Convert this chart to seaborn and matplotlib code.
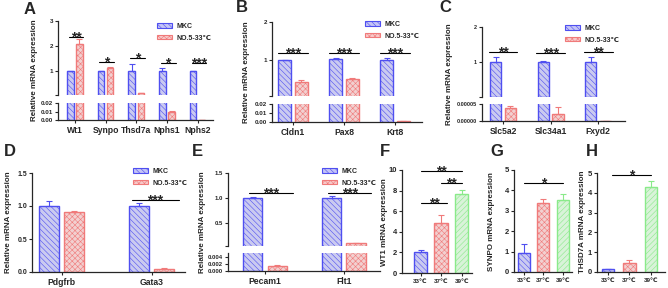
import numpy as np
import pandas as pd
import seaborn as sns
import matplotlib.pyplot as plt
from matplotlib.patches import Patch

# data
groups = ['MKC', 'NO.5-33℃']
temps = ['33℃', '37℃', '39℃']

a_genes = ['Wt1', 'Synpo', 'Thsd7a', 'Nphs1', 'Nphs2']
a_mkc = [1.0, 1.0, 1.0, 1.0, 1.0]
a_mkc_err = [0.0, 0.0, 0.27, 0.12, 0.0]
a_no5 = [2.07, 1.13, 0.10, 0.009, 0.0002]
a_no5_err = [0.2, 0.04, 0.03, 0.002, 0.0]
a_stars = ['**', '*', '*', '*', '***']
a_star_y = [2.35, 1.36, 1.52, 1.32, 1.32]

b_genes = ['Cldn1', 'Pax8', 'Krt8']
b_mkc = [1.0, 1.02, 1.0]
b_mkc_err = [0.01, 0.02, 0.05]
b_no5 = [0.43, 0.49, 0.001]
b_no5_err = [0.03, 0.03, 0.0003]
b_stars = ['***', '***', '***']
b_star_y = [1.18, 1.18, 1.18]

c_genes = ['Slc5a2', 'Slc34a1', 'Fxyd2']
c_mkc = [1.0, 1.0, 1.0]
c_mkc_err = [0.14, 0.04, 0.14]
c_no5 = [0.000038, 0.000021, 0.0]
c_no5_err = [0.000007, 0.00002, 0.0]
c_stars = ['**', '***', '**']
c_star_y = [1.29, 1.26, 1.29]

d_genes = ['Pdgfrb', 'Gata3']
d_mkc = [1.0, 1.0]
d_mkc_err = [0.08, 0.05]
d_no5 = [0.91, 0.05]
d_no5_err = [0.02, 0.005]

e_genes = ['Pecam1', 'Flt1']
e_mkc = [1.0, 1.0]
e_mkc_err = [0.02, 0.04]
e_no5 = [0.0015, 0.09]
e_no5_err = [0.0002, 0.01]

f_vals = [2.05, 4.85, 7.7]
f_err = [0.2, 0.8, 0.4]
g_vals = [0.93, 3.4, 3.52]
g_err = [0.42, 0.2, 0.3]
h_vals = [0.13, 0.47, 4.28]
h_err = [0.04, 0.15, 0.3]

pair_fill = ['#c4c4f6', '#f8caca']
pair_edge = ['#4f4ff0', '#f07a7a']
pair_hatch = ['\\\\\\\\\\\\', 'xxxxxx']
tri_fill = ['#c4c4f6', '#f8caca', '#d4f8d4']
tri_edge = ['#4f4ff0', '#f07a7a', '#8aea8a']
tri_hatch = ['\\\\\\\\\\\\', 'xxxxxx', '//////']

sns.set_style('ticks')
plt.rcParams['font.family'] = ['Liberation Sans', 'DejaVu Sans']
plt.rcParams['font.weight'] = 'bold'
plt.rcParams['hatch.linewidth'] = 0.4

W, H = 668, 288
fig = plt.figure(figsize=(6.68, 2.88), dpi=100)


def box(x0, y0, x1, y1):
    # pixel box, top-left origin -> figure fraction
    return [x0 / W, 1 - y1 / H, (x1 - x0) / W, (y1 - y0) / H]


def ftext(x, y, s, **kw):
    fig.text(x / W, 1 - y / H, s, **kw)


def style(ax, xlabels=True, ysize=4.5):
    sns.despine(ax=ax, bottom=not xlabels)
    for s in ax.spines.values():
        s.set_linewidth(0.9)
    ax.tick_params(axis='y', labelsize=ysize, length=2.5, width=0.8, pad=1)
    ax.tick_params(axis='x', labelsize=6.2, length=2.5, width=0.8, pad=1.5)
    if not xlabels:
        ax.set_xticks([])
    ax.set_xlabel('')
    ax.set_ylabel('')


def pair_bars(ax, genes, mkc, mkc_err, no5, no5_err, width, gap, floor=None):
    df = pd.DataFrame({
        'gene': genes + genes,
        'group': [groups[0]] * len(genes) + [groups[1]] * len(genes),
        'value': mkc + no5,
    })
    sns.barplot(data=df, x='gene', y='value', hue='group', hue_order=groups,
                palette=pair_fill, width=width, gap=gap, errorbar=None,
                legend=False, ax=ax)
    conts = list(ax.containers)[:2]
    for cont, edge, hatch, err in zip(conts, pair_edge, pair_hatch, [mkc_err, no5_err]):
        xs, hs, es = [], [], []
        for bar, e in zip(cont, err):
            bar.set_edgecolor(edge)
            bar.set_hatch(hatch)
            bar.set_linewidth(1.0)
            h = bar.get_height()
            # in the upper part of a broken axis, skip bars that end below the break
            if floor is not None and h + e < floor:
                bar.set_visible(False)
                continue
            xs.append(bar.get_x() + bar.get_width() / 2)
            hs.append(h)
            es.append(e)
        if xs:
            ax.errorbar(xs, hs, yerr=[np.zeros(len(es)), es], fmt='none', ecolor=edge,
                        elinewidth=0.8, capsize=2.5, capthick=0.8)


def tri_bars(ax, vals, err, width):
    sns.barplot(x=temps, y=vals, hue=temps, palette=tri_fill, width=width,
                errorbar=None, legend=False, ax=ax)
    for bar, edge, hatch, e in zip(ax.patches, tri_edge, tri_hatch, err):
        bar.set_edgecolor(edge)
        bar.set_hatch(hatch)
        bar.set_linewidth(1.0)
        x = bar.get_x() + bar.get_width() / 2
        ax.errorbar([x], [bar.get_height()], yerr=[[0], [e]], fmt='none', ecolor=edge,
                    elinewidth=0.8, capsize=2.5, capthick=0.8)


def sig(ax, x0, x1, y, s, size=10):
    ax.plot([x0, x1], [y, y], color='black', lw=0.8, clip_on=False)
    ax.annotate(s, ((x0 + x1) / 2, y), xytext=(0, -3.2), textcoords='offset points',
                ha='center', va='baseline', fontsize=size, annotation_clip=False)


def legend(ax, x, y):
    handles = [Patch(facecolor=f, edgecolor=e, hatch=h, lw=0.8)
               for f, e, h in zip(pair_fill, pair_edge, pair_hatch)]
    ax.legend(handles, groups, loc='upper left', bbox_to_anchor=(x / W, 1 - y / H),
              bbox_transform=fig.transFigure, frameon=False, fontsize=5,
              handlelength=2.2, handleheight=0.55, labelspacing=0.7,
              borderpad=0, borderaxespad=0, handletextpad=0.6)


def broken(xs, top, bot, genes, mkc, mkc_err, no5, no5_err, top_lim, bot_lim,
           top_ticks, bot_ticks, bot_fmt, xlim, width, gap, ysize=4.5):
    ax_t = fig.add_axes(box(xs[0], top[0], xs[1], top[1]))
    ax_b = fig.add_axes(box(xs[0], bot[0], xs[1], bot[1]))
    pair_bars(ax_t, genes, mkc, mkc_err, no5, no5_err, width, gap, floor=top_lim[0])
    pair_bars(ax_b, genes, mkc, mkc_err, no5, no5_err, width, gap)
    for ax in (ax_t, ax_b):
        ax.set_xlim(xlim)
    ax_t.set_ylim(top_lim)
    ax_b.set_ylim(bot_lim)
    style(ax_t, xlabels=False, ysize=ysize)
    style(ax_b, ysize=ysize)
    ax_t.set_yticks([top_lim[0]] + top_ticks)
    ax_t.set_yticklabels([''] + [str(t) for t in top_ticks])
    ax_b.set_yticks(bot_ticks)
    ax_b.set_yticklabels([bot_fmt.format(t) for t in bot_ticks])
    return ax_t, ax_b


# ---- A ----
axA, axA2 = broken((58, 213), (21, 95), (103, 120), a_genes, a_mkc, a_mkc_err, a_no5, a_no5_err,
                   (0.03, 3), (0, 0.02), [1, 2, 3], [0, 0.01, 0.02], '{:.2f}',
                   (-0.55, 4.5), 0.6, 0.3)
for i, (s, y) in enumerate(zip(a_stars, a_star_y)):
    sig(axA, i - 0.2, i + 0.28, y, s)
legend(axA, 157, 23)
ftext(35, 70, 'Relative mRNA expression', rotation=90, ha='center', va='center', fontsize=5.8)
ftext(30, 10, 'A', ha='center', va='center', fontsize=12)

# ---- B ----
axB, axB2 = broken((272, 422), (22, 96), (104, 122), b_genes, b_mkc, b_mkc_err, b_no5, b_no5_err,
                   (0.05, 2), (0, 0.02), [1, 2], [0, 0.01, 0.02], '{:.2f}',
                   (-0.41, 2.53), 0.65, 0.2)
for i, (s, y) in enumerate(zip(b_stars, b_star_y)):
    sig(axB, i - 0.3, i + 0.3, y, s)
legend(axB, 365, 21)
ftext(246, 72, 'Relative mRNA expression', rotation=90, ha='center', va='center', fontsize=5.8)
ftext(242, 8, 'B', ha='center', va='center', fontsize=12)

# ---- C ----
axC, axC2 = broken((482, 625), (27, 97), (104, 121), c_genes, c_mkc, c_mkc_err, c_no5, c_no5_err,
                   (0.01, 2), (0, 0.00005), [1, 2], [0, 0.00005], '{:.5f}',
                   (-0.44, 2.56), 0.62, 0.25, ysize=4)
for i, (s, y) in enumerate(zip(c_stars, c_star_y)):
    sig(axC, i - 0.3, i + 0.3, y, s)
legend(axC, 565, 25)
ftext(449, 74, 'Relative mRNA expression', rotation=90, ha='center', va='center', fontsize=5.8)
ftext(445, 8, 'C', ha='center', va='center', fontsize=12)

# ---- D ----
axD = fig.add_axes(box(32, 173, 185, 272))
pair_bars(axD, d_genes, d_mkc, d_mkc_err, d_no5, d_no5_err, 0.55, 0.2)
axD.set_xlim(-0.33, 1.37)
axD.set_ylim(0, 1.5)
axD.set_yticks([0, 0.5, 1.0, 1.5])
style(axD, ysize=5)
sig(axD, 0.78, 1.3, 1.09, '***')
legend(axD, 133, 168)
ftext(9, 222, 'Relative mRNA expression', rotation=90, ha='center', va='center', fontsize=5.8)
ftext(10, 152, 'D', ha='center', va='center', fontsize=12)

# ---- E ----
axE, axE2 = broken((228, 380), (173, 246), (253, 271), e_genes, e_mkc, e_mkc_err, e_no5, e_no5_err,
                   (0.03, 1.5), (0, 0.0051), [0.5, 1.0, 1.5], [0, 0.002, 0.004], '{:.3f}',
                   (-0.47, 1.46), 0.62, 0.22, ysize=4.3)
axE.set_yticklabels(['', '0.5', '1.0', '1.5'])
sig(axE, -0.2, 0.35, 1.09, '***')
sig(axE, 0.8, 1.35, 1.09, '***')
legend(axE, 322, 168)
ftext(202, 222, 'Relative mRNA expression', rotation=90, ha='center', va='center', fontsize=5.8)
ftext(197, 152, 'E', ha='center', va='center', fontsize=12)

# ---- F, G, H ----
tri_panels = [
    ('F', (402, 472), (170, 273), f_vals, f_err, 10, [0, 2, 4, 6, 8, 10], 0.66, (-0.9, 2.5),
     'WT1 mRNA expression', 385, 385),
    ('G', (514, 572), (170, 272), g_vals, g_err, 5, [0, 1, 2, 3, 4, 5], 0.62, (-0.5, 2.46),
     'SYNPO mRNA expression', 491, 497),
    ('H', (597, 665), (173, 272), h_vals, h_err, 5, [0, 1, 2, 3, 4, 5], 0.6, (-0.51, 2.65),
     'THSD7A mRNA expression', 583, 592),
]
tri_axes = []
for letter, xs, ys, vals, err, top, ticks, width, xlim, label, lx, px in tri_panels:
    ax = fig.add_axes(box(xs[0], ys[0], xs[1], ys[1]))
    tri_bars(ax, vals, err, width)
    ax.set_ylim(0, top)
    ax.set_yticks(ticks)
    ax.set_xlim(xlim)
    style(ax, ysize=5.5)
    ax.tick_params(axis='x', labelsize=4.5)
    ftext(lx, 222, label, rotation=90, ha='center', va='center', fontsize=5.8)
    ftext(px, 152, letter, ha='center', va='center', fontsize=12)
    tri_axes.append(ax)

axF, axG, axH = tri_axes
sig(axF, 0, 2, 9.9, '**')
sig(axF, 1, 2, 8.74, '**')
sig(axF, 0, 1.3, 6.8, '**')
sig(axG, 0, 2, 4.36, '*')
sig(axH, 0.2, 2, 4.9, '*')

fig.savefig('out.png', dpi=100)
